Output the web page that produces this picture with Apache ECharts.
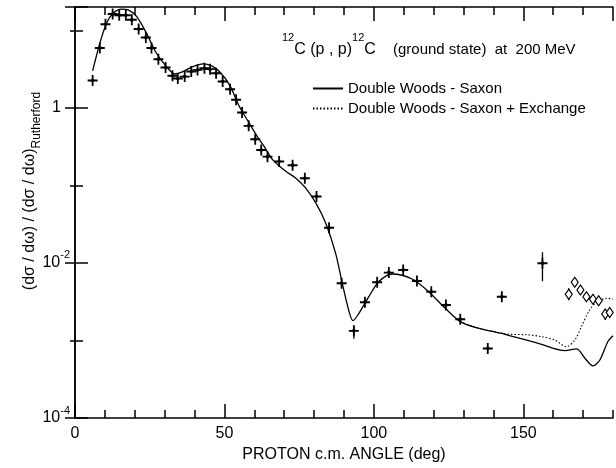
<!DOCTYPE html>
<html><head><meta charset="utf-8">
<script src="https://cdn.jsdelivr.net/npm/echarts@6/dist/echarts.min.js"></script>
<style>html,body{margin:0;padding:0;background:#fff}#c{width:616px;height:468px}</style>
</head><body><div id="c"></div>
<script>
// ---- data ----
const crossAngles = [5.9, 8.3, 10.2, 12.6, 14.8, 17.0, 19.0, 21.3, 23.7, 25.6, 27.9, 30.3, 32.6, 34.4, 36.7, 38.9, 41.0, 43.3, 45.2, 47.2, 49.4, 51.9, 53.9, 55.9, 58.1, 60.3, 62.3, 64.4, 68.3, 72.8, 76.9, 80.8, 85.0, 89.2, 93.3, 97.0, 101.1, 105.0, 109.8, 114.4, 119.2, 124.1, 128.9, 138.1, 142.8, 156.4];
const crossValues = [2.25, 5.9, 12.0, 16.3, 15.7, 15.7, 13.7, 10.4, 8.07, 5.9, 4.25, 3.31, 2.59, 2.39, 2.53, 2.94, 3.09, 3.25, 3.16, 2.8, 2.19, 1.74, 1.27, 0.87, 0.586, 0.394, 0.287, 0.235, 0.203, 0.182, 0.124, 0.0718, 0.0285, 0.00547, 0.00133, 0.00311, 0.00564, 0.0075, 0.0081, 0.00586, 0.00426, 0.00287, 0.00188, 0.00079, 0.00367, 0.0099];
const diamondAngles = [165.2, 167.2, 169.1, 171.1, 173.3, 175.2, 177.4, 178.9];
const diamondValues = [0.00394, 0.00564, 0.00449, 0.00367, 0.0034, 0.00326, 0.0022, 0.0023];
const errAngles = [93.3, 156.4, 165.2, 177.4];
const errLow = [0.00105, 0.0058, 0.0033, 0.00184];
const errHigh = [0.00154, 0.01374, 0.0047, 0.00255];
const solidAngles = [5.9, 8.3, 10.6, 12.8, 15.6, 17.8, 20.6, 23.9, 27.2, 30.6, 33.3, 36.1, 39.4, 42.8, 45.6, 48.3, 51.7, 55.0, 58.3, 61.1, 63.0, 66.1, 70.6, 73.9, 77.2, 80.6, 83.9, 87.2, 89.4, 91.7, 93.0, 95.0, 98.3, 101.7, 106.1, 112.8, 118.3, 123.9, 128.9, 133.9, 143.9, 155.0, 163.9, 167.8, 170.6, 173.3, 175.6, 178.3, 180.0];
const solidValues = [3.0, 6.8, 12.4, 16.7, 18.8, 18.4, 15.1, 9.2, 5.1, 3.41, 2.75, 2.94, 3.41, 3.7, 3.5, 2.94, 1.98, 1.04, 0.635, 0.42, 0.33, 0.215, 0.151, 0.124, 0.092, 0.059, 0.0325, 0.0133, 0.0055, 0.00236, 0.0018, 0.00224, 0.00367, 0.00575, 0.0072, 0.0062, 0.00426, 0.0026, 0.00175, 0.00148, 0.0012, 0.00092, 0.00074, 0.00078, 0.00059, 0.00047, 0.00056, 0.00097, 0.00115];
const dottedAngles = [128.9, 133.9, 143.9, 151.7, 156.1, 160.6, 164.4, 167.2, 169.4, 172.2, 175.0, 178.3, 180.0];
const dottedValues = [0.00175, 0.00148, 0.00122, 0.00118, 0.00112, 0.00101, 0.00083, 0.00101, 0.0015, 0.00248, 0.00323, 0.0035, 0.0034];
const xTickLabels = ['0', '50', '100', '150'];
const seriesNames = ['Double Woods - Saxon', 'Double Woods - Saxon + Exchange'];

// ---- chart ----
const FONT = "'Liberation Sans', Arial, sans-serif";
const FS = 15;
const zip = (a, b) => a.map((v, i) => [v, b[i]]);
const chart = echarts.init(document.getElementById('c'), null, {renderer: 'canvas'});
const lineW = 1.5;
const xBase = {type: 'value', min: 0, max: 180, splitLine: {show: false}, gridIndex: 0};
const yBase = {type: 'log', min: 1e-4, max: 20, splitLine: {show: false}, minorTick: {show: false}};
const plus = 'path://M4.1,0H5.9V4.1H10V5.9H5.9V10H4.1V5.9H0V4.1H4.1ZM5,2.5L7.5,5L5,7.5L2.5,5Z';

chart.setOption({
  animation: false,
  backgroundColor: '#fff',
  textStyle: {fontFamily: FONT, color: '#000'},
  grid: {left: 75, right: 3, top: 7, bottom: 49},
  title: [
    {text: '{s|12}{m|C (p , p)}{s|12}{m|C}', left: 282, top: 32, padding: 0,
     textStyle: {fontWeight: 'normal', rich: {
       s: {fontFamily: FONT, fontSize: 11, lineHeight: 12, verticalAlign: 'top', fontWeight: 'normal', color: '#000'},
       m: {fontFamily: FONT, fontSize: 16, lineHeight: 36, fontWeight: 'normal', color: '#000'}}}},
    {text: '(ground state)  at  200 MeV', left: 393, top: 32, padding: 0,
     textStyle: {fontFamily: FONT, fontSize: FS, lineHeight: 36, fontWeight: 'normal', color: '#000'}}
  ],
  legend: {
    data: seriesNames, orient: 'vertical', left: 312, top: 81, padding: 0,
    itemWidth: 30, itemHeight: 14, itemGap: 5,
    itemStyle: {opacity: 0},
    textStyle: {fontFamily: FONT, fontSize: FS, color: '#000'}
  },
  xAxis: [
    Object.assign({}, xBase, {position: 'bottom', interval: 10,
      axisLine: {show: true, lineStyle: {color: '#000', width: lineW}},
      axisTick: {show: true, inside: true, length: 8, lineStyle: {color: '#000', width: 1.5}},
      axisLabel: {show: false}}),
    Object.assign({}, xBase, {position: 'bottom', interval: 50,
      axisLine: {show: false},
      axisTick: {show: true, inside: true, length: 14, lineStyle: {color: '#000', width: 1.5}},
      axisLabel: {show: true, margin: 8, fontSize: 16, fontFamily: FONT, color: '#000', showMaxLabel: false,
        formatter: v => xTickLabels.includes(String(v)) ? String(v) : ''},
      name: 'PROTON c.m. ANGLE (deg)', nameLocation: 'middle', nameGap: 29,
      nameTextStyle: {fontSize: 16, fontFamily: FONT, color: '#000'}}),
    Object.assign({}, xBase, {position: 'top', interval: 10,
      axisLine: {show: true, lineStyle: {color: '#000', width: lineW}},
      axisTick: {show: true, inside: true, length: 8, lineStyle: {color: '#000', width: 1.5}},
      axisLabel: {show: false}}),
    Object.assign({}, xBase, {position: 'top', interval: 50,
      axisLine: {show: false},
      axisTick: {show: true, inside: true, length: 14, lineStyle: {color: '#000', width: 1.5}},
      axisLabel: {show: false}})
  ],
  yAxis: [
    Object.assign({}, yBase, {position: 'left', logBase: 10,
      axisLine: {show: true, lineStyle: {color: '#000', width: lineW}},
      axisTick: {show: true, inside: true, length: 8, lineStyle: {color: '#000', width: 1.5}},
      axisLabel: {show: false}}),
    Object.assign({}, yBase, {position: 'left', logBase: 100,
      axisLine: {show: false},
      axisTick: {show: true, inside: true, length: 13, lineStyle: {color: '#000', width: 1.5}},
      axisLabel: {show: true, margin: 5, fontFamily: FONT, color: '#000',
        formatter: v => {
          const e = Math.round(Math.log10(v));
          if (Math.abs(Math.log10(v) - e) > 1e-6 || e > 0) return '';
          if (e === 0) return '{b|1}{p|}';
          return '{b|10}{s|' + e + '}';
        },
        rich: {
          b: {fontFamily: FONT, fontSize: 16, lineHeight: 26, color: '#000'},
          s: {fontFamily: FONT, fontSize: 11, lineHeight: 12, verticalAlign: 'top', color: '#000'},
          p: {width: 9}
        }}}),
    Object.assign({}, yBase, {position: 'right', logBase: 10,
      axisLine: {show: true, lineStyle: {color: '#000', width: lineW}},
      axisTick: {show: true, inside: true, length: 5, lineStyle: {color: '#000', width: 1.5}},
      axisLabel: {show: false}}),
    Object.assign({}, yBase, {position: 'right', logBase: 100,
      axisLine: {show: false},
      axisTick: {show: true, inside: true, length: 10, lineStyle: {color: '#000', width: 1.5}},
      axisLabel: {show: false}})
  ],
  graphic: [
    {type: 'text', x: 30, y: 191, rotation: Math.PI / 2,
     style: {text: '{m|(dσ / dω) / (dσ / dω)}{s|Rutherford}', align: 'center', verticalAlign: 'middle',
       rich: {
         m: {fontFamily: FONT, fontSize: 16, lineHeight: 26, fill: '#000'},
         s: {fontFamily: FONT, fontSize: 12, lineHeight: 12, verticalAlign: 'bottom', fill: '#000'}
       }}}
  ],
  series: [
    {name: seriesNames[0], type: 'line', data: zip(solidAngles, solidValues), symbol: 'none', smooth: 0.3,
     xAxisIndex: 0, yAxisIndex: 0, lineStyle: {color: '#000', width: 1.3, type: 'solid'}, itemStyle: {color: '#000'}, z: 3},
    {name: seriesNames[1], type: 'line', data: zip(dottedAngles, dottedValues), symbol: 'none', smooth: 0.3,
     xAxisIndex: 0, yAxisIndex: 0, lineStyle: {color: '#000', width: 1.1, type: [1.5, 2]}, itemStyle: {color: '#000'}, z: 3},
    {name: 'data', type: 'scatter', data: zip(crossAngles, crossValues), symbol: plus, symbolSize: [10, 11],
     xAxisIndex: 0, yAxisIndex: 0, itemStyle: {color: '#000', opacity: 1}, z: 4},
    {name: 'data2', type: 'scatter', data: zip(diamondAngles, diamondValues), symbol: 'diamond', symbolSize: [7, 10],
     xAxisIndex: 0, yAxisIndex: 0, clip: false,
     itemStyle: {color: '#fff', borderColor: '#000', borderWidth: 1.2, opacity: 1}, z: 5},
    {name: 'err', type: 'custom', xAxisIndex: 0, yAxisIndex: 0,
     data: errAngles.map((a, i) => [a, errLow[i], errHigh[i]]),
     encode: {x: 0, y: [1, 2]},
     renderItem: (params, api) => {
       const lo = api.coord([api.value(0), api.value(1)]);
       const hi = api.coord([api.value(0), api.value(2)]);
       return {type: 'line', shape: {x1: lo[0], y1: lo[1], x2: hi[0], y2: hi[1]},
               style: {stroke: '#000', lineWidth: 1.3}};
     }, z: 4}
  ]
});
</script></body></html>
